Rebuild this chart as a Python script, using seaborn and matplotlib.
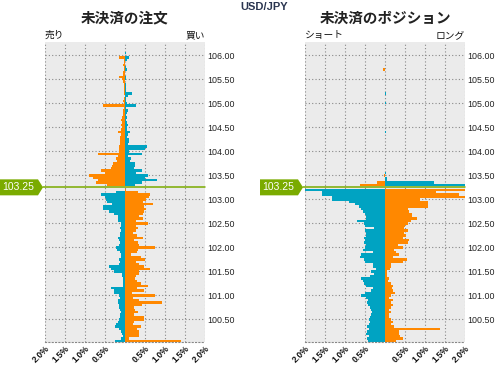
import numpy as np
import pandas as pd
import matplotlib
matplotlib.use("Agg")
import matplotlib.pyplot as plt
from matplotlib.lines import Line2D
from matplotlib.patches import Polygon
import seaborn as sns

# Price levels (bucket centres), top to bottom

current_price = 103.25
prices = np.round(106.05 - 0.05 * np.arange(121), 2)

# Open orders: above the current price (106.05 .. 103.25)

orders_left_above = [
    0.00, 0.00, 0.16, 0.02, 0.03, 0.04, 0.03, 0.02, 0.04, 0.05,
    0.14, 0.07, 0.06, 0.03, 0.03, 0.02, 0.02, 0.02, 0.01, 0.02,
    0.04, 0.02, 0.54, 0.03, 0.04, 0.05, 0.06, 0.08, 0.09, 0.07,
    0.09, 0.08, 0.10, 0.18, 0.10, 0.12, 0.12, 0.13, 0.13, 0.14,
    0.14, 0.16, 0.67, 0.17, 0.22, 0.21, 0.29, 0.32, 0.35, 0.60,
    0.49, 0.89, 0.81, 0.68, 0.72, 0.46, 0.00,
]
orders_right_above = [
    0.03, 0.00, 0.10, 0.05, 0.01, 0.01, 0.02, 0.04, 0.01, 0.01,
    0.02, 0.02, 0.01, 0.02, 0.02, 0.03, 0.02, 0.17, 0.07, 0.03,
    0.02, 0.04, 0.28, 0.02, 0.08, 0.04, 0.03, 0.04, 0.03, 0.05,
    0.07, 0.04, 0.05, 0.13, 0.08, 0.06, 0.09, 0.11, 0.08, 0.55,
    0.50, 0.11, 0.43, 0.07, 0.16, 0.13, 0.24, 0.25, 0.23, 0.43,
    0.28, 0.58, 0.49, 0.80, 0.43, 0.25, 0.00,
]

# Open orders: below the current price (103.20 .. 100.05)

orders_left_below = [
    0.00, 0.22, 0.60, 0.49, 0.47, 0.46, 0.33, 0.54, 0.54, 0.39,
    0.27, 0.18, 0.18, 0.18, 0.10, 0.10, 0.12, 0.09, 0.12, 0.13,
    0.17, 0.14, 0.13, 0.16, 0.22, 0.21, 0.13, 0.10, 0.11, 0.14,
    0.13, 0.14, 0.39, 0.35, 0.27, 0.08, 0.08, 0.04, 0.04, 0.06,
    0.04, 0.35, 0.27, 0.28, 0.14, 0.13, 0.18, 0.18, 0.16, 0.14,
    0.13, 0.10, 0.13, 0.12, 0.14, 0.18, 0.22, 0.24, 0.14, 0.09,
    0.08, 0.06, 0.10, 0.24,
]
orders_right_below = [
    0.03, 0.33, 0.63, 0.59, 0.53, 0.46, 0.71, 0.48, 0.52, 0.48,
    0.44, 0.36, 0.44, 0.28, 0.58, 0.28, 0.33, 0.28, 0.21, 0.29,
    0.44, 0.23, 0.32, 0.36, 0.76, 0.32, 0.29, 0.15, 0.40, 0.50,
    0.28, 0.36, 0.48, 0.63, 0.36, 0.36, 0.28, 0.26, 0.31, 0.40,
    0.58, 0.29, 0.48, 0.18, 0.75, 0.19, 0.36, 0.93, 0.43, 0.23,
    0.26, 0.32, 0.23, 0.48, 0.48, 0.23, 0.19, 0.40, 0.29, 0.36,
    0.36, 0.36, 0.11, 1.40,
]

# Open positions: above the current price (106.05 .. 103.25)

positions_left_above = [
    0.00, 0.00, 0.00, 0.00, 0.00, 0.00, 0.00, 0.04, 0.00, 0.00,
    0.00, 0.00, 0.00, 0.00, 0.00, 0.00, 0.00, 0.00, 0.00, 0.00,
    0.00, 0.00, 0.00, 0.00, 0.00, 0.00, 0.00, 0.00, 0.00, 0.00,
    0.00, 0.00, 0.00, 0.00, 0.00, 0.00, 0.00, 0.00, 0.00, 0.00,
    0.00, 0.00, 0.00, 0.00, 0.00, 0.00, 0.00, 0.00, 0.00, 0.00,
    0.00, 0.02, 0.00, 0.00, 0.20, 0.62, 0.00,
]
positions_right_above = [
    0.00, 0.00, 0.00, 0.00, 0.00, 0.00, 0.00, 0.00, 0.00, 0.00,
    0.00, 0.00, 0.00, 0.00, 0.00, 0.00, 0.00, 0.03, 0.00, 0.00,
    0.00, 0.02, 0.00, 0.00, 0.00, 0.00, 0.00, 0.00, 0.00, 0.00,
    0.00, 0.00, 0.00, 0.02, 0.00, 0.00, 0.00, 0.00, 0.00, 0.00,
    0.00, 0.00, 0.00, 0.00, 0.00, 0.00, 0.00, 0.00, 0.00, 0.00,
    0.03, 0.00, 0.05, 0.05, 1.23, 2.30, 0.00,
]

# Open positions: below the current price (103.20 .. 100.05)

positions_left_below = [
    2.30, 1.57, 1.57, 1.32, 1.32, 0.89, 0.75, 0.66, 0.60, 0.56,
    0.49, 0.48, 0.48, 0.71, 0.52, 0.49, 0.27, 0.49, 0.48, 0.48,
    0.52, 0.49, 0.52, 0.48, 0.50, 0.56, 0.29, 0.60, 0.62, 0.52,
    0.50, 0.31, 0.31, 0.23, 0.34, 0.27, 0.38, 0.60, 0.54, 0.52,
    0.48, 0.29, 0.35, 0.49, 0.60, 0.48, 0.43, 0.46, 0.43, 0.38,
    0.35, 0.33, 0.35, 0.38, 0.41, 0.38, 0.41, 0.46, 0.39, 0.46,
    0.48, 0.39, 0.46, 0.43,
]
positions_right_below = [
    2.30, 1.27, 1.86, 2.10, 0.88, 1.08, 1.08, 1.08, 0.57, 0.61,
    0.68, 0.68, 0.80, 0.65, 0.57, 0.51, 0.48, 0.58, 0.48, 0.53,
    0.44, 0.59, 0.58, 0.32, 0.44, 0.22, 0.28, 0.34, 0.19, 0.54,
    0.44, 0.15, 0.15, 0.13, 0.04, 0.04, 0.04, 0.11, 0.07, 0.15,
    0.21, 0.18, 0.19, 0.26, 0.15, 0.11, 0.21, 0.15, 0.19, 0.15,
    0.11, 0.15, 0.11, 0.11, 0.15, 0.21, 0.15, 0.23, 1.38, 0.34,
    0.36, 0.38, 0.44, 0.28,
]

x_ticks = [-2.0, -1.5, -1.0, -0.5, 0.0, 0.5, 1.0, 1.5, 2.0]
x_tick_labels = ["2.0%", "1.5%", "1.0%", "0.5%", "", "0.5%", "1.0%", "1.5%", "2.0%"]
y_ticks = [100.5, 101.0, 101.5, 102.0, 102.5, 103.0, 103.5, 104.0, 104.5,
           105.0, 105.5, 106.0]

# Style

ORANGE = "#FF8800"
TEAL = "#00A3C2"
GREEN = "#7AAB00"
W, H = 497, 365

sns.set_theme(style="white")
plt.rcParams["font.family"] = ["Liberation Sans", "Noto Sans CJK JP", "DejaVu Sans"]

fig = plt.figure(figsize=(W / 100, H / 100), dpi=100)


def draw_panel(x0, left_vals, right_vals, title, left_label, right_label):
    ax = fig.add_axes([x0 / W, 22.7 / H, 160 / W, 300.3 / H])

    above = prices >= current_price
    df = pd.DataFrame({
        "price": np.concatenate([prices, prices]),
        "value": np.concatenate([-np.array(left_vals), np.array(right_vals)]),
        "color": np.concatenate([
            np.where(above, "orange", "teal"),
            np.where(above, "teal", "orange"),
        ]),
    })

    sns.barplot(
        data=df,
        x="value",
        y="price",
        hue="color",
        palette={"orange": ORANGE, "teal": TEAL},
        orient="y",
        native_scale=True,
        dodge=False,
        width=1.0,
        errorbar=None,
        legend=False,
        saturation=1,
        linewidth=0,
        ax=ax,
    )

    ax.set_facecolor("#EBEBEB")
    ax.set_xlim(-2, 2)
    ax.set_ylim(100.025, 106.275)
    ax.set_xlabel("")
    ax.set_ylabel("")

    ax.set_xticks(x_ticks)
    ax.set_xticklabels(x_tick_labels, rotation=45, ha="right",
                       rotation_mode="anchor", fontsize=6.3,
                       fontweight="bold", color="#111111")
    ax.yaxis.tick_right()
    ax.set_yticks(y_ticks)
    ax.set_yticklabels([f"{v:.2f}" for v in y_ticks], fontsize=6.4,
                       color="#222222")
    ax.tick_params(axis="both", length=0)
    ax.tick_params(axis="x", pad=1.5)
    ax.tick_params(axis="y", pad=2)

    ax.set_axisbelow(True)
    ax.grid(True, color="#888888", linestyle=(0, (1, 2)), linewidth=0.8)
    for side in ["top", "left", "right"]:
        ax.spines[side].set_visible(False)
    ax.spines["bottom"].set_color("#888888")
    ax.spines["bottom"].set_linestyle((0, (1, 2)))
    ax.spines["bottom"].set_linewidth(0.8)

    ax.text(0, 1.006, left_label, transform=ax.transAxes, ha="left",
            va="bottom", fontsize=7, color="#111111")
    ax.text(1, 1.006, right_label, transform=ax.transAxes, ha="right",
            va="bottom", fontsize=7, color="#111111")

    fig.text((x0 + 80) / W, 1 - 18.5 / H, title, ha="center", va="center",
             fontsize=10.5, fontweight="bold", color="#222222")

    # current price marker
    y_disp = ax.transData.transform((0, current_price))[1]
    y_px = y_disp / fig.dpi * 100
    tip = x0 - 2
    start = x0 - 45
    fig.add_artist(Line2D([tip / W, (x0 + 160) / W], [y_px / H, y_px / H],
                          transform=fig.transFigure, color=GREEN,
                          linewidth=1.1))
    box = Polygon(
        [[start / W, (y_px - 8) / H], [(tip - 5) / W, (y_px - 8) / H],
         [tip / W, y_px / H], [(tip - 5) / W, (y_px + 8) / H],
         [start / W, (y_px + 8) / H]],
        closed=True, transform=fig.transFigure, facecolor=GREEN,
        edgecolor="none")
    fig.add_artist(box)
    fig.text((start + 2) / W, y_px / H, f"{current_price:.2f}", ha="left",
             va="center", fontsize=7.5, color="white")
    return ax


draw_panel(45, orders_left_above + orders_left_below,
           orders_right_above + orders_right_below,
           "未決済の注文", "売り", "買い")

draw_panel(305, positions_left_above + positions_left_below,
           positions_right_above + positions_right_below,
           "未決済のポジション", "ショート", "ロング")

fig.text(264 / W, 1 - 7 / H, "USD/JPY", ha="center", va="center",
         fontsize=8, fontweight="bold", color="#2A3550")

fig.savefig("out.png", dpi=100)
